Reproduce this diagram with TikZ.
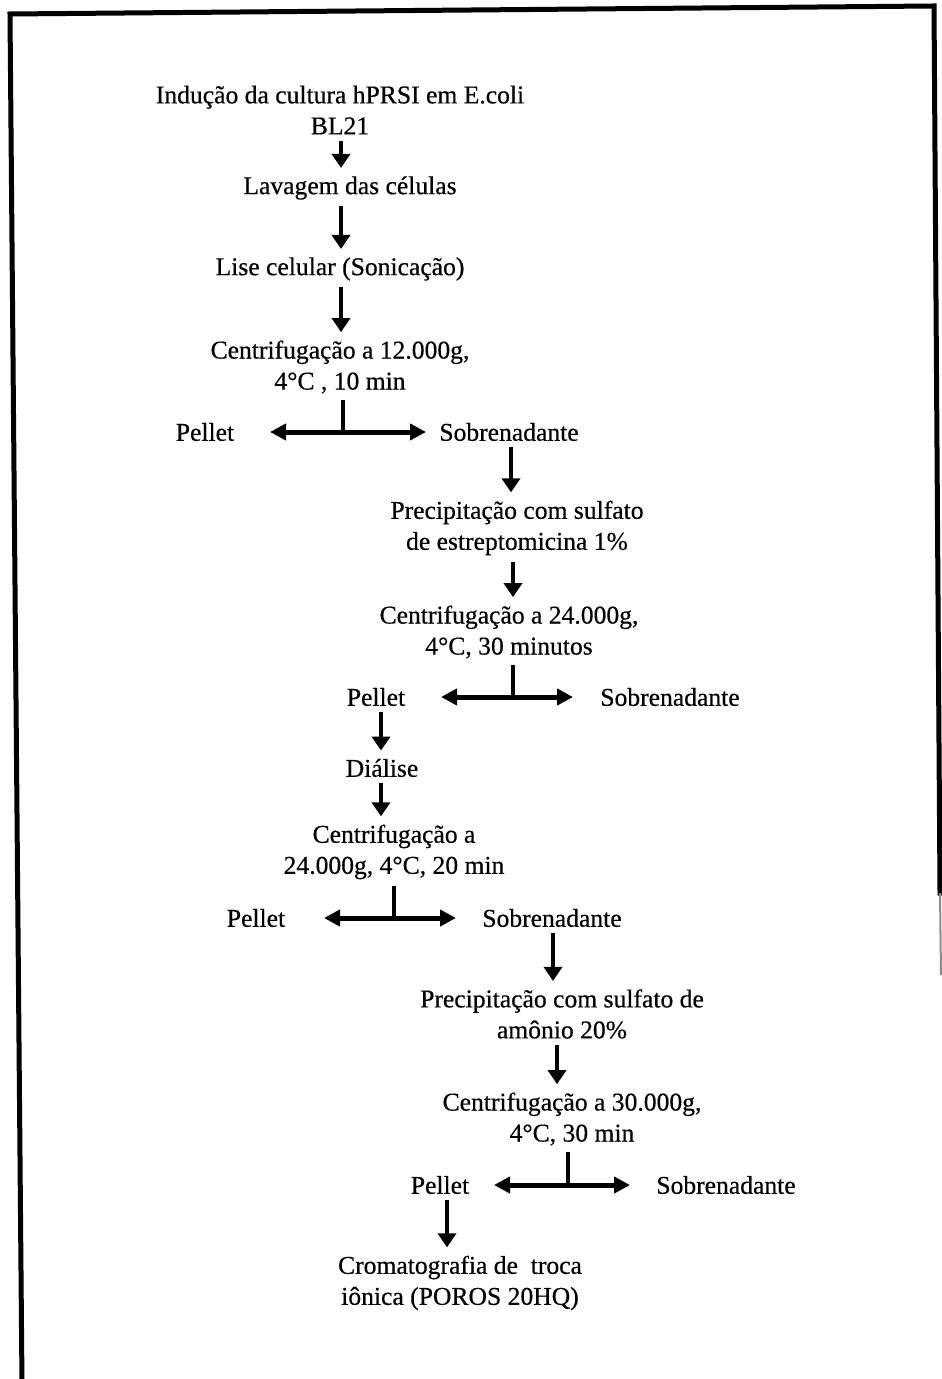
\documentclass[tikz,border=0pt]{standalone}
\usepackage{fontspec}
\setmainfont{Liberation Serif}
\newfontfamily\diagfont{Liberation Serif}[FakeBold=0.5]
\usetikzlibrary{arrows.meta}
\begin{document}
\begin{tikzpicture}[x=0.5pt,y=-0.5pt,
  every node/.style={font=\diagfont\fontsize{12.8}{15.5}\selectfont, inner sep=0pt, align=center},
  down/.style={line width=2pt, -{Triangle[length=7pt,width=9pt]}, shorten <=3pt, shorten >=4pt},
  stem/.style={line width=2pt, shorten <=3pt},
  split/.style={line width=2.5pt, {Triangle[length=8pt,width=8pt]}-{Triangle[length=8pt,width=8pt]}},
  frame/.style={line width=2.5pt, line cap=rect}]
\useasboundingbox (0,0) rectangle (941,1379);

% page frame (open at the bottom)
\draw[frame] (22,1385) -- (10,14) -- (934,6) -- (940,893);
\draw[line width=1pt, black!45] (940,893) -- (941,975);

% main column
\node (n1)  at (340,110) {Indução da cultura hPRSI em E.coli\\BL21};
\node (n2)  at (350,188) {Lavagem das células};
\node (n3)  at (340,269) {Lise celular (Sonicação)};
\node (n4)  at (340,367) {Centrifugação a 12.000g,\\4°C , 10 min};
\node (p1)  at (205,432) {Pellet};
\node (s1)  at (509,432) {Sobrenadante};
\node (n5)  at (517,528) {Precipitação com sulfato\\de estreptomicina 1\%};
\node (n6)  at (509,632) {Centrifugação a 24.000g,\\4°C, 30 minutos};
\node (p2)  at (376,697) {Pellet};
\node (s2)  at (670,697) {Sobrenadante};
\node (n7)  at (382,768) {Diálise};
\node (n8)  at (394,852) {Centrifugação a\\24.000g, 4°C, 20 min};
\node (p3)  at (256,918) {Pellet};
\node (s3)  at (552,918) {Sobrenadante};
\node (n9)  at (562,1014) {Precipitação com sulfato de\\amônio 20\%};
\node (n10) at (572,1119) {Centrifugação a 30.000g,\\4°C, 30 min};
\node (p4)  at (440,1185) {Pellet};
\node (s4)  at (726,1185) {Sobrenadante};
\node (n11) at (460,1283) {Cromatografia de\ \ troca\\iônica (POROS 20HQ)};

% junctions of the split arrows
\coordinate (j1) at (343,432);
\coordinate (j2) at (513,697);
\coordinate (j3) at (394,918);
\coordinate (j4) at (568,1185);
\coordinate (l1) at (270,432);  \coordinate (r1) at (426,432);
\coordinate (l2) at (441,697);  \coordinate (r2) at (573,697);
\coordinate (l3) at (324,918);  \coordinate (r3) at (456,918);
\coordinate (l4) at (494,1185); \coordinate (r4) at (630,1185);

% step arrows
\draw[down] (n1.south -| 341,0) -- (n2.north -| 341,0);
\draw[down] (n2.south -| 341,0) -- (n3.north -| 341,0);
\draw[down] (n3.south -| 341,0) -- (n4.north -| 341,0);
\draw[down] (s1.south -| 511,0) -- (n5.north -| 511,0);
\draw[down] (n5.south -| 513,0) -- (n6.north -| 513,0);
\draw[down] (p2.south -| 381,0) -- (n7.north -| 381,0);
\draw[down] (n7.south -| 381,0) -- (n8.north -| 381,0);
\draw[down] (s3.south -| 553,0) -- (n9.north -| 553,0);
\draw[down] (n9.south -| 557,0) -- (n10.north -| 557,0);
\draw[down] (p4.south -| 447,0) -- (n11.north -| 447,0);

% splits into pellet and supernatant
\draw[stem] (n4.south -| j1) -- (j1);
\draw[split] (l1) -- (r1);
\draw[stem] (n6.south -| j2) -- (j2);
\draw[split] (l2) -- (r2);
\draw[stem] (n8.south -| j3) -- (j3);
\draw[split] (l3) -- (r3);
\draw[stem] (n10.south -| j4) -- (j4);
\draw[split] (l4) -- (r4);
\end{tikzpicture}
\end{document}
